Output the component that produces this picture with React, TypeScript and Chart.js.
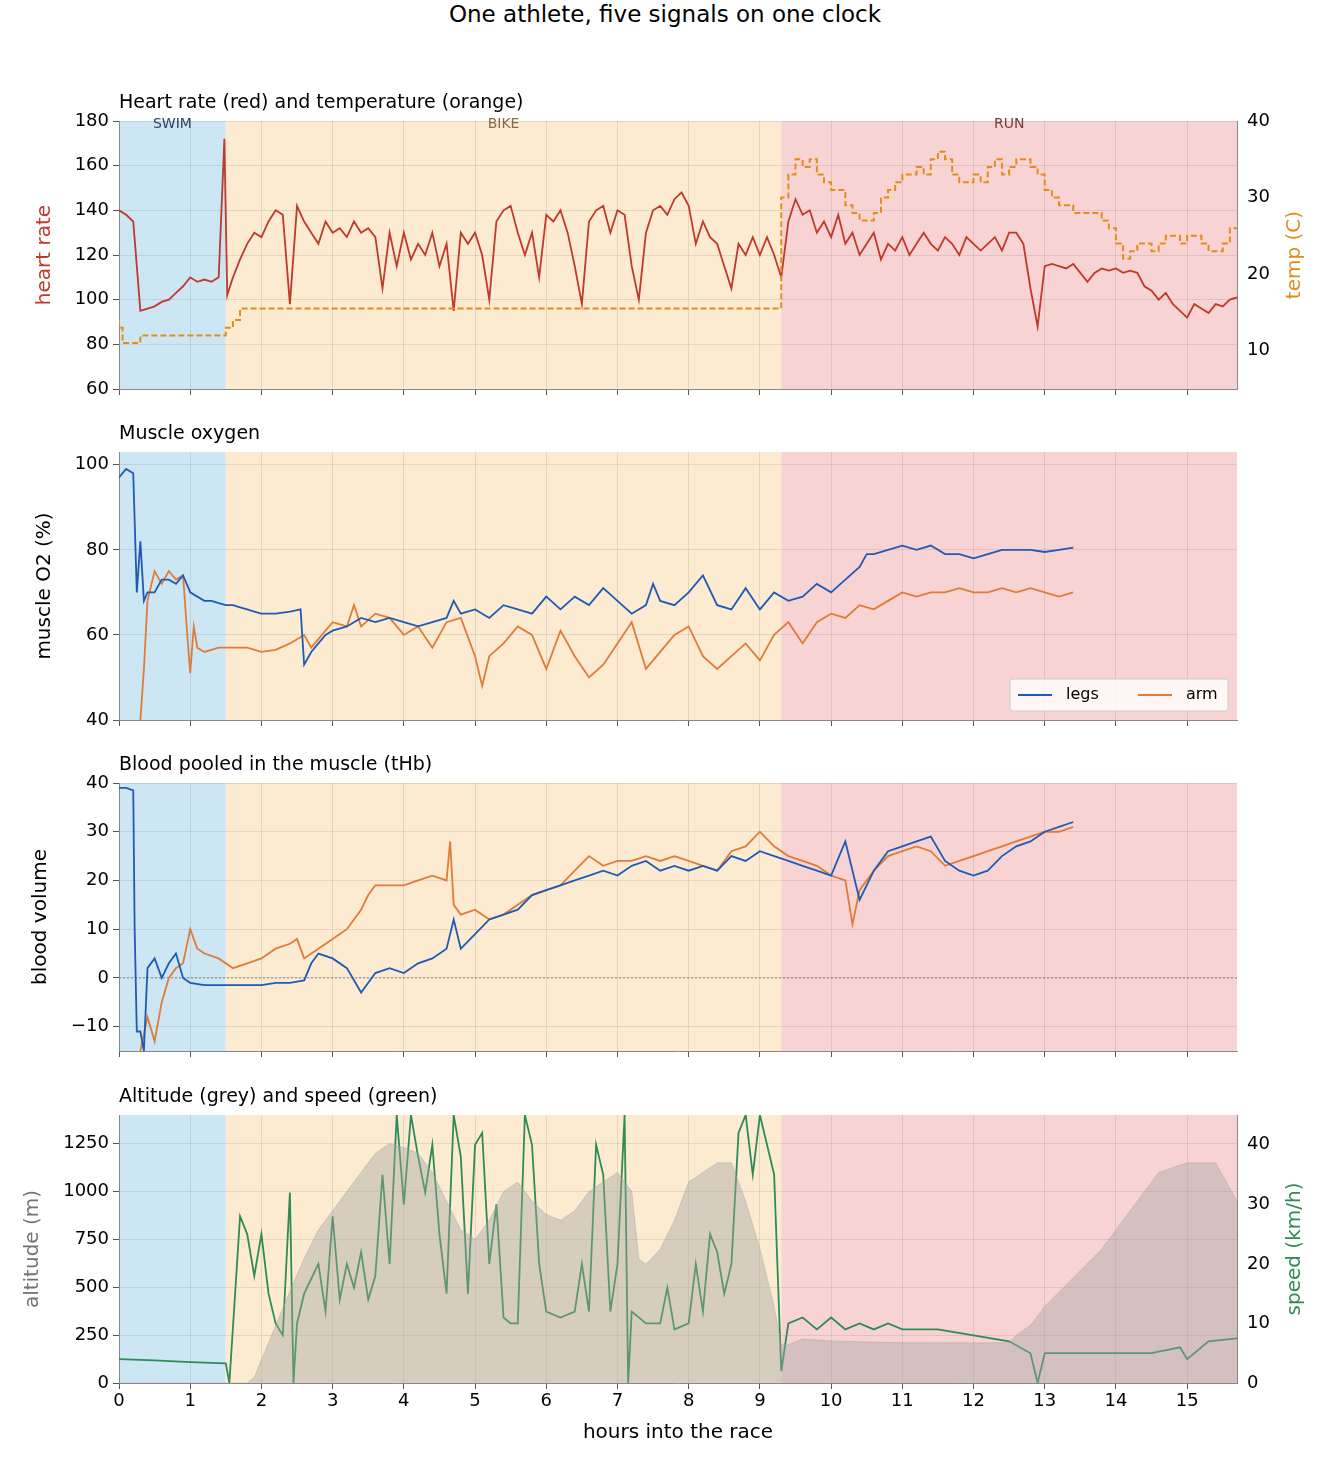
import React, { useEffect, useRef } from "react";
import { Chart, registerables, ChartConfiguration } from "chart.js";

Chart.register(...registerables);

// ---- data (hours into the race) ----
const phases = [
  { name: "SWIM", from: 0, to: 1.5, color: "#cde6f4", text: "#2c3e60" },
  { name: "BIKE", from: 1.5, to: 9.3, color: "#fcebd0", text: "#8a6a45" },
  { name: "RUN", from: 9.3, to: 15.7, color: "#f7d4d3", text: "#7a3a3a" },
];

const hrTime = [0,0.1,0.2,0.3,0.4,0.5,0.6,0.7,0.8,0.9,1,1.1,1.2,1.3,1.4,1.48,1.52,1.6,1.7,1.8,1.9,2,2.1,2.2,2.3,2.4,2.5,2.6,2.7,2.8,2.9,3,3.1,3.2,3.3,3.4,3.5,3.6,3.7,3.8,3.9,4,4.1,4.2,4.3,4.4,4.5,4.6,4.7,4.8,4.9,5,5.1,5.2,5.3,5.4,5.5,5.6,5.7,5.8,5.9,6,6.1,6.2,6.3,6.4,6.5,6.6,6.7,6.8,6.9,7,7.1,7.2,7.3,7.4,7.5,7.6,7.7,7.8,7.9,8,8.1,8.2,8.3,8.4,8.5,8.6,8.7,8.8,8.9,9,9.1,9.2,9.3,9.4,9.5,9.6,9.7,9.8,9.9,10,10.1,10.2,10.3,10.4,10.5,10.6,10.7,10.8,10.9,11,11.1,11.2,11.3,11.4,11.5,11.6,11.7,11.8,11.9,12,12.1,12.2,12.3,12.4,12.5,12.6,12.7,12.8,12.9,13,13.1,13.2,13.3,13.4,13.5,13.6,13.7,13.8,13.9,14,14.1,14.2,14.3,14.4,14.5,14.6,14.7,14.8,14.9,15,15.1,15.2,15.3,15.4,15.5,15.6,15.7];
const heartRate = [140,138,135,95,96,97,99,100,103,106,110,108,109,108,110,172,102,110,118,125,130,128,135,140,138,98,142,135,130,125,135,130,132,128,135,130,132,128,105,130,115,130,118,125,120,130,115,125,95,130,125,130,120,100,135,140,142,130,120,130,110,138,135,140,130,115,98,135,140,142,130,140,138,115,100,130,140,142,138,145,148,142,125,135,128,125,115,105,125,120,128,120,128,120,110,135,145,138,140,130,135,128,138,125,130,120,125,130,118,125,122,128,120,125,130,125,122,128,125,120,128,125,122,125,128,122,130,130,125,105,88,115,116,115,114,116,112,108,112,114,113,114,112,113,112,106,104,100,103,98,95,92,98,96,94,98,97,100,101];

const tempTime = [0,0.05,0.1,0.3,0.6,1.5,1.6,1.7,1.8,9.3,9.4,9.5,9.6,9.7,9.8,9.9,10,10.2,10.3,10.4,10.6,10.7,10.8,10.9,11,11.2,11.3,11.4,11.5,11.6,11.7,11.8,12,12.1,12.2,12.3,12.4,12.5,12.6,12.8,12.9,13,13.1,13.2,13.4,13.5,13.8,13.9,14,14.1,14.2,14.3,14.5,14.6,14.7,14.9,15,15.2,15.3,15.5,15.6,15.7];
const temperature = [14,13,11,11,12,12,13,14,15.5,15.5,30,33,35,34,35,33,32,31,29,28,27,28,30,31,32,33,34,33,35,36,35,33,32,33,32,34,35,33,34,35,34,33,31,30,29,28,28,27,26,24,22,23,24,23,24,25,24,25,24,23,24,26];

const legsTime = [0,0.1,0.2,0.25,0.3,0.35,0.4,0.5,0.6,0.7,0.8,0.9,1,1.1,1.2,1.3,1.4,1.5,1.6,1.7,1.8,1.9,2,2.2,2.4,2.55,2.6,2.7,2.8,2.9,3,3.2,3.4,3.6,3.8,4,4.2,4.4,4.6,4.7,4.8,5,5.2,5.4,5.6,5.8,6,6.2,6.4,6.6,6.8,7,7.2,7.4,7.5,7.6,7.8,8,8.2,8.4,8.6,8.8,9,9.2,9.4,9.6,9.8,10,10.2,10.4,10.5,10.6,10.8,11,11.2,11.4,11.6,11.8,12,12.2,12.4,12.6,12.8,13,13.2,13.4];
const legsO2 = [97,99,98,70,82,68,70,70,73,73,72,74,70,69,68,68,67.5,67,67,66.5,66,65.5,65,65,65.5,66,53,56,58,60,61,62,64,63,64,63,62,63,64,68,65,66,64,67,66,65,69,66,69,67,71,68,65,67,72,68,67,70,74,67,66,71,66,70,68,69,72,70,73,76,79,79,80,81,80,81,79,79,78,79,80,80,80,79.5,80,80.5];

const armTime = [0.3,0.35,0.4,0.5,0.6,0.7,0.8,0.9,0.95,1,1.05,1.1,1.2,1.4,1.6,1.8,2,2.2,2.4,2.6,2.7,2.8,3,3.2,3.3,3.4,3.6,3.8,4,4.2,4.4,4.6,4.8,5,5.1,5.2,5.4,5.6,5.8,6,6.2,6.4,6.6,6.8,7,7.2,7.4,7.6,7.8,8,8.2,8.4,8.6,8.8,9,9.2,9.4,9.6,9.8,10,10.2,10.4,10.6,10.8,11,11.2,11.4,11.6,11.8,12,12.2,12.4,12.6,12.8,13,13.2,13.4];
const armO2 = [40,52,68,75,72,75,73,74,62,51,62,57,56,57,57,57,56,56.5,58,60,57,59,63,62,67,62,65,64,60,62,57,63,64,55,48,55,58,62,60,52,61,55,50,53,58,63,52,56,60,62,55,52,55,58,54,60,63,58,63,65,64,67,66,68,70,69,70,70,71,70,70,71,70,71,70,69,70];

const legsTHbTime = [0,0.1,0.2,0.22,0.25,0.3,0.35,0.4,0.5,0.6,0.7,0.8,0.9,1,1.2,1.4,1.6,1.8,2,2.2,2.4,2.6,2.7,2.8,3,3.2,3.4,3.6,3.8,4,4.2,4.4,4.6,4.7,4.8,5,5.2,5.4,5.6,5.8,6,6.2,6.4,6.6,6.8,7,7.2,7.4,7.6,7.8,8,8.2,8.4,8.6,8.8,9,9.2,9.4,9.6,9.8,10,10.2,10.4,10.6,10.8,11,11.2,11.4,11.6,11.8,12,12.2,12.4,12.6,12.8,13,13.2,13.4];
const legsTHb = [39,39,38.5,10,-11,-11,-15,2,4,0,3,5,0,-1,-1.5,-1.5,-1.5,-1.5,-1.5,-1,-1,-0.5,3,5,4,2,-3,1,2,1,3,4,6,12,6,9,12,13,14,17,18,19,20,21,22,21,23,24,22,23,22,23,22,25,24,26,25,24,23,22,21,28,16,22,26,27,28,29,24,22,21,22,25,27,28,30,31,32];

const armTHbTime = [0.3,0.4,0.5,0.6,0.7,0.8,0.9,1,1.1,1.2,1.4,1.6,1.8,2,2.2,2.4,2.5,2.6,2.8,3,3.2,3.4,3.5,3.6,3.8,4,4.2,4.4,4.6,4.65,4.7,4.8,5,5.2,5.4,5.6,5.8,6,6.2,6.4,6.6,6.8,7,7.2,7.4,7.6,7.8,8,8.2,8.4,8.6,8.8,9,9.2,9.4,9.6,9.8,10,10.2,10.3,10.4,10.6,10.8,11,11.2,11.4,11.6,11.8,12,12.2,12.4,12.6,12.8,13,13.2,13.4];
const armTHb = [-15,-8,-13,-5,0,2,3,10,6,5,4,2,3,4,6,7,8,4,6,8,10,14,17,19,19,19,20,21,20,28,15,13,14,12,13,15,17,18,19,22,25,23,24,24,25,24,25,24,23,22,26,27,30,27,25,24,23,21,20,11,18,22,25,26,27,26,23,24,25,26,27,28,29,30,30,31];

const altTime = [0,1.8,1.9,2,2.2,2.4,2.6,2.8,3,3.2,3.4,3.6,3.8,4,4.2,4.4,4.6,4.8,5,5.2,5.4,5.6,5.8,6,6.2,6.4,6.6,6.8,7,7.2,7.3,7.4,7.6,7.8,8,8.2,8.4,8.6,8.8,9,9.2,9.3,9.4,9.6,10,11,12,12.5,12.6,12.8,13,13.4,13.8,14.2,14.6,15,15.4,15.7];
const altitude = [0,0,30,120,300,480,650,800,900,1000,1100,1200,1250,1230,1200,1100,950,800,750,850,1000,1050,950,880,850,900,1000,1050,1100,1000,650,620,700,850,1050,1100,1150,1150,950,700,400,200,200,230,220,210,210,210,250,300,400,550,700,900,1100,1150,1150,950];

const speedTime = [0,0.5,1,1.5,1.55,1.7,1.8,1.9,2,2.1,2.2,2.3,2.4,2.45,2.5,2.6,2.8,2.9,3,3.1,3.2,3.3,3.4,3.5,3.6,3.7,3.8,3.9,4,4.1,4.2,4.3,4.4,4.5,4.6,4.7,4.8,4.9,5,5.1,5.2,5.3,5.4,5.5,5.6,5.7,5.8,5.9,6,6.2,6.4,6.5,6.6,6.7,6.8,6.9,7,7.1,7.15,7.2,7.4,7.6,7.7,7.8,8,8.1,8.2,8.3,8.4,8.5,8.6,8.7,8.8,8.9,9,9.1,9.2,9.3,9.4,9.6,9.8,10,10.2,10.4,10.6,10.8,11,11.5,12,12.5,12.8,12.9,13,13.4,13.8,14,14.5,14.9,15,15.3,15.7];
const speed = [4,3.8,3.5,3.3,0,28,25,18,25,15,10,8,32,0,10,15,20,12,28,14,20,16,22,14,18,35,20,45,30,45,38,32,40,25,15,45,38,15,40,42,20,30,11,10,10,45,40,20,12,11,12,20,12,40,35,12,20,45,0,12,10,10,16,9,10,20,12,25,22,15,20,42,45,35,45,40,35,2,10,11,9,11,9,10,9,10,9,9,8,7,5,0,5,5,5,5,5,6,4,7,7.5];

const hourTicks = [0,1,2,3,4,5,6,7,8,9,10,11,12,13,14,15];

const pts = (t: number[], v: number[]) => t.map((x, i) => ({ x, y: v[i] }));
const FONT = "'DejaVu Sans', sans-serif";
const PAD_TOP = 42;

type AxisLabel = { text: string; color: string; x: number };

const panelPlugin = (
  title: string,
  opts: { phaseLabels?: boolean; zeroLine?: boolean; legend?: { label: string; color: string }[]; axisLabels: AxisLabel[] }
) => ({
  id: "panel",
  beforeDraw(chart: any) {
    const { ctx, chartArea: a, scales } = chart;
    ctx.save();
    phases.forEach((p) => {
      const x0 = scales.x.getPixelForValue(p.from);
      const x1 = scales.x.getPixelForValue(p.to);
      ctx.fillStyle = p.color;
      ctx.fillRect(x0, a.top, x1 - x0, a.bottom - a.top);
    });
    ctx.restore();
  },
  beforeDatasetsDraw(chart: any) {
    const { ctx, chartArea: a, scales } = chart;
    if (opts.zeroLine) {
      const y = scales.y.getPixelForValue(0);
      ctx.save();
      ctx.strokeStyle = "#888";
      ctx.lineWidth = 1;
      ctx.setLineDash([2, 2]);
      ctx.beginPath();
      ctx.moveTo(a.left, y);
      ctx.lineTo(a.right, y);
      ctx.stroke();
      ctx.restore();
    }
  },
  afterDraw(chart: any) {
    const { ctx, chartArea: a, scales } = chart;
    ctx.save();
    ctx.fillStyle = "#000";
    ctx.font = `19px ${FONT}`;
    ctx.textBaseline = "bottom";
    ctx.fillText(title, a.left, a.top - 8);
    // rotated y-axis titles
    ctx.font = `20px ${FONT}`;
    ctx.textAlign = "center";
    ctx.textBaseline = "middle";
    opts.axisLabels.forEach((l) => {
      ctx.save();
      ctx.translate(l.x, (a.top + a.bottom) / 2);
      ctx.rotate(-Math.PI / 2);
      ctx.fillStyle = l.color;
      ctx.fillText(l.text, 0, 0);
      ctx.restore();
    });
    if (opts.phaseLabels) {
      ctx.font = `14px ${FONT}`;
      ctx.textAlign = "center";
      ctx.textBaseline = "top";
      phases.forEach((p) => {
        ctx.fillStyle = p.text;
        ctx.fillText(p.name, scales.x.getPixelForValue((p.from + p.to) / 2), a.top - 4);
      });
    }
    if (opts.legend) {
      const w = 218, h = 32;
      const x = a.right - w - 9, y = a.bottom - h - 9;
      ctx.fillStyle = "rgba(255,255,255,0.8)";
      ctx.strokeStyle = "#ccc";
      ctx.lineWidth = 1;
      ctx.beginPath();
      ctx.roundRect(x, y, w, h, 3);
      ctx.fill();
      ctx.stroke();
      ctx.font = `16px ${FONT}`;
      ctx.textAlign = "left";
      ctx.textBaseline = "middle";
      opts.legend.forEach((l, i) => {
        const lx = x + 8 + i * 120;
        ctx.strokeStyle = l.color;
        ctx.lineWidth = 2;
        ctx.beginPath();
        ctx.moveTo(lx, y + h / 2);
        ctx.lineTo(lx + 34, y + h / 2);
        ctx.stroke();
        ctx.fillStyle = "#000";
        ctx.fillText(l.label, lx + 48, y + h / 2);
      });
    }
    ctx.restore();
  },
});

const fixTicks = (vals: number[]) => (scale: any) => {
  scale.ticks = vals.map((value) => ({ value }));
};

const yAxis = (min: number, max: number, ticks: number[], pos: "left" | "right", grid: boolean) => ({
  type: "linear" as const,
  position: pos,
  min,
  max,
  afterBuildTicks: fixTicks(ticks),
  afterFit: (s: any) => { s.width = pos === "left" ? 119 : 93; },
  grid: { display: grid, color: "rgba(0,0,0,0.09)", drawTicks: true, tickLength: 6, tickColor: "#555" },
  border: { color: "#888" },
  ticks: { color: "#000", font: { size: 18, family: FONT }, padding: 4, callback: (v: any) => String(v).replace("-", "\u2212") },
});

const xAxis = (labels: boolean) => ({
  type: "linear" as const,
  min: 0,
  max: 15.7,
  afterBuildTicks: fixTicks(hourTicks),
  afterFit: (s: any) => { s.height = labels ? 64 : 40; },
  grid: { color: "rgba(0,0,0,0.09)", drawTicks: true, tickLength: 6, tickColor: "#555" },
  border: { color: "#888" },
  ticks: { display: labels, color: "#000", font: { size: 18, family: FONT }, padding: 2 },
  title: { display: labels, text: "hours into the race", color: "#000", font: { size: 20, family: FONT }, padding: 2 },
});

const line = (label: string, data: any[], color: string, axis: string, extra: any = {}) => ({
  label,
  data,
  borderColor: color,
  borderWidth: 1.8,
  pointRadius: 0,
  tension: 0,
  yAxisID: axis,
  ...extra,
});

const baseOptions = (scales: any, rightPad: number) => ({
  animation: false as const,
  responsive: false,
  parsing: false as const,
  layout: { padding: { top: PAD_TOP, right: rightPad, left: 0, bottom: 0 } },
  plugins: { legend: { display: false }, tooltip: { enabled: false } },
  scales,
});

const configs: { top: number; height: number; config: ChartConfiguration }[] = [
  {
    top: 121 - PAD_TOP,
    height: PAD_TOP + 268 + 40,
    config: {
      type: "line",
      data: {
        datasets: [
          line("temp", pts(tempTime, temperature), "#e08e1b", "y1", { stepped: "after", borderDash: [6, 3], borderWidth: 2 }),
          line("heart rate", pts(hrTime, heartRate), "#c0392b", "y"),
        ],
      },
      options: baseOptions({
        x: xAxis(false),
        y: yAxis(60, 180, [60, 80, 100, 120, 140, 160, 180], "left", true),
        y1: yAxis(5, 40, [10, 20, 30, 40], "right", false),
      }, 0) as any,
      plugins: [panelPlugin("Heart rate (red) and temperature (orange)", {
        phaseLabels: true,
        axisLabels: [{ text: "heart rate", color: "#c0392b", x: 45 }, { text: "temp (C)", color: "#e08e1b", x: 1295 }],
      })],
    },
  },
  {
    top: 452 - PAD_TOP,
    height: PAD_TOP + 268 + 40,
    config: {
      type: "line",
      data: {
        datasets: [
          line("legs", pts(legsTime, legsO2), "#1f5bb5", "y"),
          line("arm", pts(armTime, armO2), "#e07b39", "y"),
        ],
      },
      options: baseOptions({
        x: xAxis(false),
        y: yAxis(40, 103, [40, 60, 80, 100], "left", true),
      }, 93) as any,
      plugins: [panelPlugin("Muscle oxygen", {
        legend: [{ label: "legs", color: "#1f5bb5" }, { label: "arm", color: "#e07b39" }],
        axisLabels: [{ text: "muscle O2 (%)", color: "#000", x: 45 }],
      })],
    },
  },
  {
    top: 783 - PAD_TOP,
    height: PAD_TOP + 268 + 40,
    config: {
      type: "line",
      data: {
        datasets: [
          line("legs", pts(legsTHbTime, legsTHb), "#1f5bb5", "y"),
          line("arm", pts(armTHbTime, armTHb), "#e07b39", "y"),
        ],
      },
      options: baseOptions({
        x: xAxis(false),
        y: yAxis(-15, 40, [-10, 0, 10, 20, 30, 40], "left", true),
      }, 93) as any,
      plugins: [panelPlugin("Blood pooled in the muscle (tHb)", {
        zeroLine: true,
        axisLabels: [{ text: "blood volume", color: "#000", x: 41 }],
      })],
    },
  },
  {
    top: 1115 - PAD_TOP,
    height: PAD_TOP + 268 + 64,
    config: {
      type: "line",
      data: {
        datasets: [
          line("altitude", pts(altTime, altitude), "rgba(160,160,160,0.4)", "y", { fill: "origin", backgroundColor: "rgba(165,165,165,0.42)", borderWidth: 1 }),
          line("speed", pts(speedTime, speed), "#2e8b57", "y1"),
        ],
      },
      options: baseOptions({
        x: xAxis(true),
        y: yAxis(0, 1400, [0, 250, 500, 750, 1000, 1250], "left", true),
        y1: yAxis(0, 45, [0, 10, 20, 30, 40], "right", false),
      }, 0) as any,
      plugins: [panelPlugin("Altitude (grey) and speed (green)", {
        axisLabels: [{ text: "altitude (m)", color: "#6f767a", x: 33 }, { text: "speed (km/h)", color: "#2e8b57", x: 1295 }],
      })],
    },
  },
];

const Panel: React.FC<{ top: number; height: number; config: ChartConfiguration }> = ({ top, height, config }) => {
  const ref = useRef<HTMLCanvasElement>(null);
  useEffect(() => {
    if (!ref.current) return;
    const chart = new Chart(ref.current, config);
    return () => chart.destroy();
  }, [config]);
  return <canvas ref={ref} width={1330} height={height} style={{ position: "absolute", left: 0, top, width: 1330, height }} />;
};

export default function App() {
  useEffect(() => {
    document.body.style.margin = "0";
  }, []);
  return (
    <div style={{ position: "relative", width: 1330, height: 1470, background: "#fff", fontFamily: FONT }}>
      <div style={{ position: "absolute", top: 0, left: 0, width: 1330, textAlign: "center", fontSize: 23, lineHeight: "28px" }}>
        One athlete, five signals on one clock
      </div>
      {configs.map((c, i) => (
        <Panel key={i} top={c.top} height={c.height} config={c.config} />
      ))}
    </div>
  );
}
